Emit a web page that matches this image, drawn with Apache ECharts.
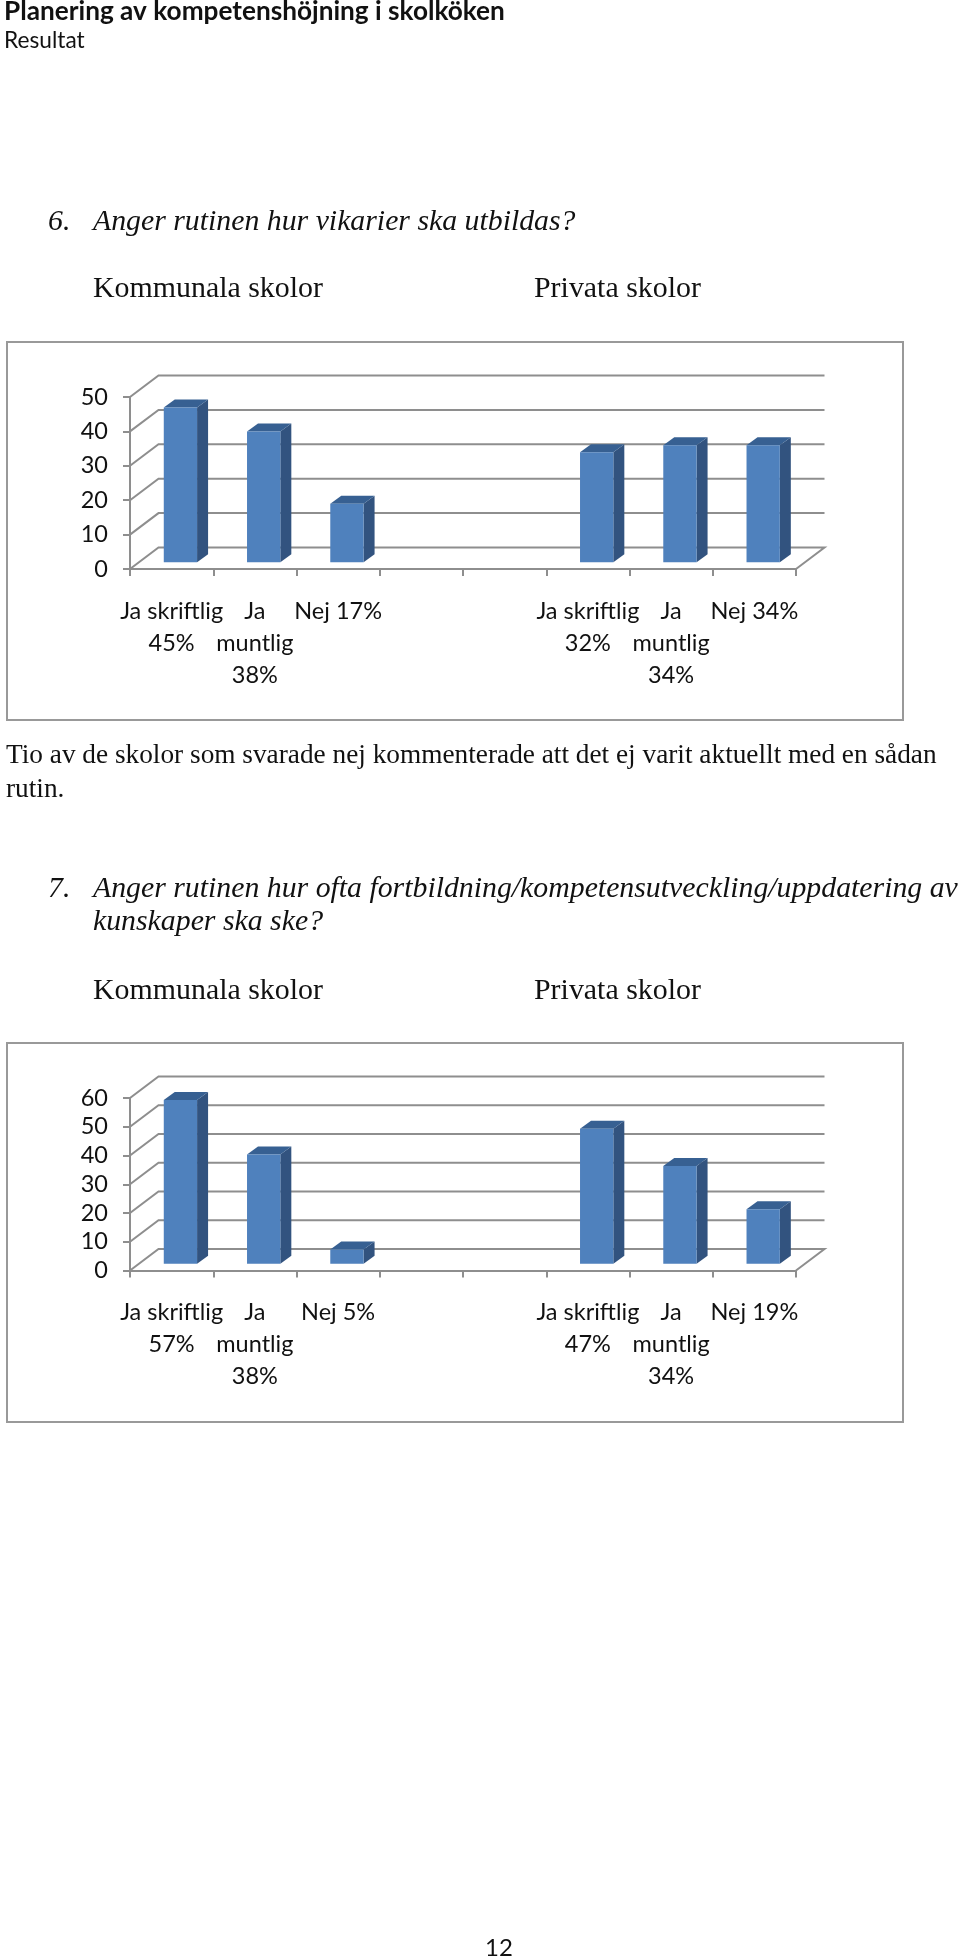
<!DOCTYPE html>
<html><head><meta charset="utf-8">
<style>html,body{margin:0;padding:0;background:#fff;overflow:hidden}#c{width:960px;height:1958px}</style>
<script src="https://cdn.jsdelivr.net/npm/echarts@6/dist/echarts.min.js"></script>
</head><body><div id="c"></div>
<script>
const categories1 = ['Ja skriftlig\n45%','Ja\nmuntlig\n38%','Nej 17%','','','Ja skriftlig\n32%','Ja\nmuntlig\n34%','Nej 34%'];
const values1 = [45,38,17,null,null,32,34,34];
const ticks1 = [0,10,20,30,40,50];
const categories2 = ['Ja skriftlig\n57%','Ja\nmuntlig\n38%','Nej 5%','','','Ja skriftlig\n47%','Ja\nmuntlig\n34%','Nej 19%'];
const values2 = [57,38,5,null,null,47,34,19];
const ticks2 = [0,10,20,30,40,50,60];

const GRAY='#8e8e8e', FRONT='#4f81bd', SIDE='#32537f', TOP='#376092';
const DX=28.5, DY=21.5;

function wallItem(params, api){
  const cs=params.coordSys, v=api.value(1), y=api.coord([0,v])[1];
  const x0=cs.x, x1=cs.x+cs.width;
  const pts = v===0
    ? [[x1,y],[x1+DX,y-DY],[x0+DX,y-DY],[x0,y]]
    : [[x0,y],[x0+DX,y-DY],[x1+DX,y-DY]];
  return {type:'polyline',shape:{points:pts},style:{stroke:GRAY,lineWidth:2,fill:null},silent:true};
}
function barItem(params, api){
  if(api.value(1)==null||isNaN(api.value(1))) return null;
  const top=api.coord([api.value(0),api.value(1)]), base=api.coord([api.value(0),0]);
  const band=api.size([1,0])[0], w=band*0.4, dx=11, dy=8, ox=8.8, oy=6.7;
  const l=top[0]+ox-w/2, r=l+w, t=top[1]-oy, b=base[1]-oy;
  return {type:'group',children:[
    {type:'polygon',shape:{points:[[r,t],[r+dx,t-dy],[r+dx,b-dy],[r,b]]},style:{fill:SIDE}},
    {type:'polygon',shape:{points:[[l,t],[l+dx,t-dy],[r+dx,t-dy],[r,t]]},style:{fill:TOP}},
    {type:'rect',shape:{x:l,y:t,width:w,height:b-t},style:{fill:FRONT}}
  ]};
}
const LAB={fontFamily:'Lato',fontSize:23.5,color:'#111'};
function xAxis(i,cats){return {gridIndex:i,type:'category',data:cats,
  axisLine:{lineStyle:{color:GRAY,width:2}},axisTick:{show:true,length:7,lineStyle:{color:GRAY,width:2}},
  axisLabel:{...LAB,interval:0,margin:26,lineHeight:32,verticalAlign:'top',hideOverlap:false},splitLine:{show:false}};}
function yAxis(i,max){return {gridIndex:i,type:'value',min:0,max:max,interval:10,
  axisLine:{show:true,lineStyle:{color:GRAY,width:2}},axisTick:{show:true,length:7,lineStyle:{color:GRAY,width:2}},
  axisLabel:{...LAB,margin:22},splitLine:{show:false}};}
function wall(i,ticks){return {type:'custom',xAxisIndex:i,yAxisIndex:i,renderItem:wallItem,z:1,clip:false,
  encode:{x:0,y:1},data:ticks.map(t=>[0,t])};}
function bars(i,vals){return {type:'custom',xAxisIndex:i,yAxisIndex:i,renderItem:barItem,z:5,clip:false,
  encode:{x:0,y:1},data:vals.map((v,k)=>[k,v])};}

const SERIF='"Liberation Serif"';
function txt(x,y,t,font){return {type:'text',x:x,y:y,z:20,silent:true,
  style:{text:t,font:font,fill:'#111',verticalAlign:'middle'}};}
function frame(x,y,w,h){return {type:'rect',z:0,silent:true,shape:{x,y,width:w,height:h},style:{fill:'#fff',stroke:'#999',lineWidth:2}};}
const ITAL='italic 29.8px '+SERIF, ROM='29.9px '+SERIF, BODY='27.3px '+SERIF;

const chart=echarts.init(document.getElementById('c'),null,{renderer:'canvas'});
chart.setOption({
  animation:false,backgroundColor:'#fff',
  grid:[{left:130,top:397,width:666,height:172},{left:130,top:1098,width:666,height:172.5}],
  xAxis:[xAxis(0,categories1),xAxis(1,categories2)],
  yAxis:[yAxis(0,50),yAxis(1,60)],
  series:[wall(0,ticks1),bars(0,values1),wall(1,ticks2),bars(1,values2)],
  graphic:[
    frame(7,342,896,378),frame(7,1043,896,379),
    txt(4,12,'Planering av kompetenshöjning i skolköken','bold 26.2px Lato'),
    txt(4,41,'Resultat','22.7px Lato'),
    txt(48,222,'6.',ITAL),
    txt(93,222,'Anger rutinen hur vikarier ska utbildas?',ITAL),
    txt(93,289,'Kommunala skolor',ROM),
    txt(534,289,'Privata skolor',ROM),
    txt(6,756,'Tio av de skolor som svarade nej kommenterade att det ej varit aktuellt med en sådan',BODY),
    txt(6,790,'rutin.',BODY),
    txt(48,889,'7.',ITAL),
    txt(93,889,'Anger rutinen hur ofta fortbildning/kompetensutveckling/uppdatering av',ITAL),
    txt(93,922,'kunskaper ska ske?',ITAL),
    txt(93,991,'Kommunala skolor',ROM),
    txt(534,991,'Privata skolor',ROM),
    txt(485,1948,'12','24px Lato')
  ]
});
</script></body></html>
